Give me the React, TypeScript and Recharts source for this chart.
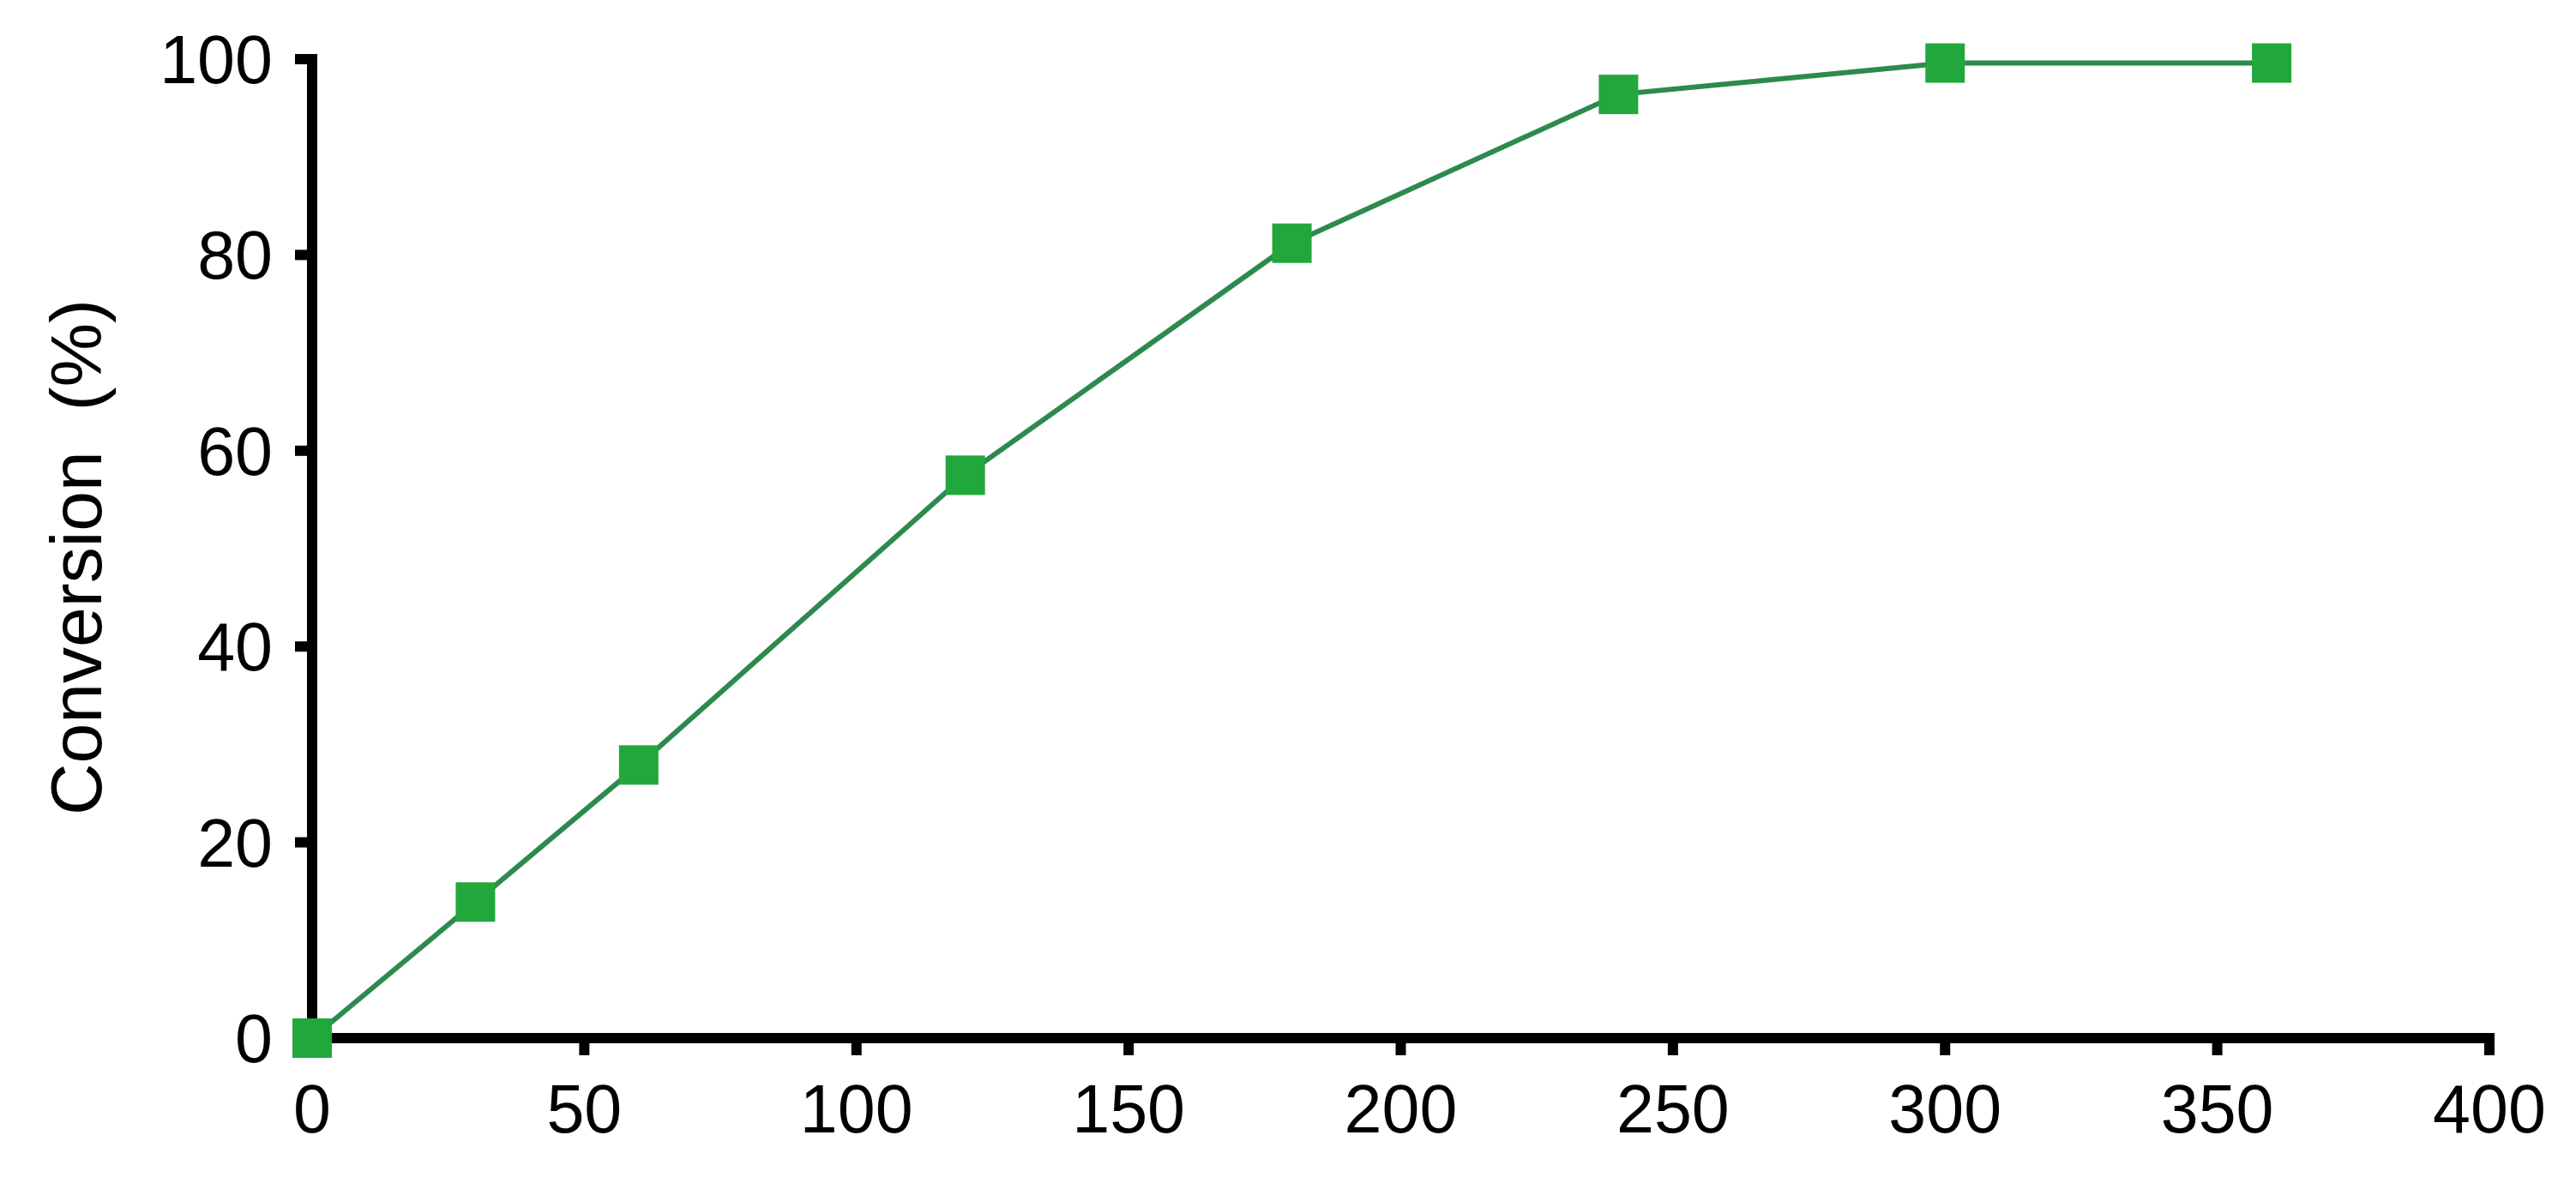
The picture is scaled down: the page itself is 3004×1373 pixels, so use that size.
import React from 'react';
import { LineChart, Line, XAxis, YAxis } from 'recharts';

const timeMin = [0, 30, 60, 120, 180, 240, 300, 360];
const conversion = [0, 13.9, 27.9, 57.5, 81.2, 96.4, 99.6, 99.6];
const xTicks = [0, 50, 100, 150, 200, 250, 300, 350, 400];
const yTicks = [0, 20, 40, 60, 80, 100];

const dados = timeMin.map((t, i) => ({ t, conv: conversion[i] }));

const FONT = '"Liberation Sans", Arial, sans-serif';
const AXIS = { stroke: '#000', strokeWidth: 12, strokeLinecap: 'square' as const };
const TICK_LINE = { stroke: '#000', strokeWidth: 12 };

function SquareDot(props: any) {
  const { cx, cy } = props;
  if (cx == null || cy == null) return null;
  const s = 46;
  return <rect x={cx - s / 2} y={cy - s / 2} width={s} height={s} fill="#22a73c" />;
}

function YLabel(props: any) {
  const vb = props.viewBox || {};
  const cy = vb.y + vb.height / 2 + 10;
  return (
    <text
      x={89}
      y={cy}
      transform={`rotate(-90, 89, ${cy})`}
      textAnchor="middle"
      dominantBaseline="central"
      fontFamily={FONT}
      fontSize={84}
      fill="#000"
      style={{ whiteSpace: 'pre' }}
    >
      {'Conversion  (%)'}
    </text>
  );
}

export default function App() {
  return (
    <div style={{ position: 'absolute', left: 0, top: 0, background: '#fff' }}>
      <LineChart width={3004} height={1373} data={dados} margin={{ top: 69, right: 101, left: 0, bottom: 0 }}>
        <XAxis
          dataKey="t"
          type="number"
          domain={[0, 400]}
          ticks={xTicks}
          axisLine={AXIS}
          tickLine={TICK_LINE}
          tickSize={20}
          tickMargin={34}
          height={162}
          tick={{ fill: '#000', fontSize: 79, fontFamily: FONT }}
          interval={0}
        />
        <YAxis
          type="number"
          domain={[0, 100]}
          ticks={yTicks}
          axisLine={AXIS}
          tickLine={TICK_LINE}
          tickSize={20}
          tickMargin={26}
          width={364}
          tick={{ fill: '#000', fontSize: 79, fontFamily: FONT }}
          interval={0}
          label={<YLabel />}
        />
        <Line
          type="linear"
          dataKey="conv"
          stroke="#2d8a4e"
          strokeWidth={6}
          dot={<SquareDot />}
          activeDot={false}
          isAnimationActive={false}
        />
      </LineChart>
    </div>
  );
}
